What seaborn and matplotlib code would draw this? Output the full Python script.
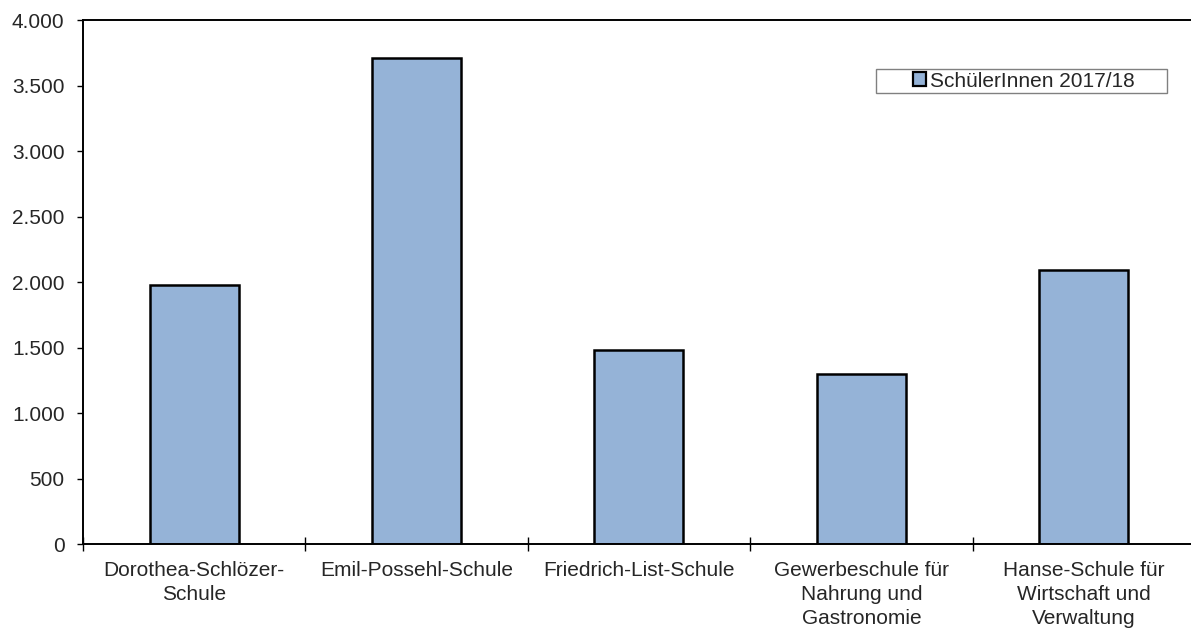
import pandas as pd
import numpy as np
import matplotlib
matplotlib.use("Agg")
import matplotlib.pyplot as plt
from matplotlib.patches import Rectangle
from matplotlib.ticker import FuncFormatter, FixedLocator
import seaborn as sns

# Daten
schulen = [
    "Dorothea-Schlözer-\nSchule",
    "Emil-Possehl-Schule",
    "Friedrich-List-Schule",
    "Gewerbeschule für\nNahrung und\nGastronomie",
    "Hanse-Schule für\nWirtschaft und\nVerwaltung",
]
schueler = [1980, 3710, 1480, 1300, 2090]
serie = "SchülerInnen 2017/18"

df = pd.DataFrame({"Schule": schulen, "Anzahl": schueler, "Serie": serie})

sns.set_style("white")
plt.rcParams["font.family"] = ["Liberation Sans", "DejaVu Sans"]
fs = 15

fig = plt.figure(figsize=(11.91, 6.30), dpi=100)
ax = fig.add_axes([0.0697, 0.1365, 0.9336, 0.8317])

sns.barplot(data=df, x="Schule", y="Anzahl", hue="Serie", palette=["#95B3D7"],
            saturation=1, width=0.4, edgecolor="black", linewidth=1.8, ax=ax)

ax.set_xlim(-0.5, len(schulen) - 0.5)
ax.set_ylim(0, 4000)
ax.set_yticks(np.arange(0, 4001, 500))
ax.yaxis.set_major_formatter(FuncFormatter(lambda v, p: f"{int(v):,}".replace(",", ".")))

# Kategorie-Trennstriche statt Ticks in der Mitte
ax.xaxis.set_major_locator(FixedLocator(np.arange(len(schulen))))
ax.set_xticklabels(schulen, linespacing=1.35)
ax.tick_params(axis="x", which="major", bottom=True, length=0, pad=12, labelsize=fs)
ax.xaxis.set_minor_locator(FixedLocator(np.arange(-0.5, len(schulen), 1.0)))
ax.tick_params(axis="x", which="minor", bottom=True, direction="inout", length=10,
               width=1.0, color="black")
ax.tick_params(axis="y", left=True, direction="out", length=4.3, width=1.0,
               color="black", labelsize=fs, pad=9)

ax.set_xlabel("")
ax.set_ylabel("")

for s in ["left", "bottom", "top"]:
    ax.spines[s].set_visible(True)
    ax.spines[s].set_color("black")
    ax.spines[s].set_linewidth(1.4)
ax.spines["right"].set_visible(False)

# Legendenrahmen
ax.add_patch(Rectangle((0.7131, 0.8607), 0.2617, 0.0458, transform=ax.transAxes,
                       facecolor="white", edgecolor="#808080", linewidth=1.0,
                       zorder=4, clip_on=False))
leg = ax.legend(loc="center left", bbox_to_anchor=(0.7464, 0.8836), borderaxespad=0,
                frameon=False, fontsize=fs, handlelength=0.62, handleheight=0.62,
                handletextpad=0.2, borderpad=0)
leg.set_zorder(5)
for h in leg.legend_handles:
    h.set_edgecolor("black")
    h.set_linewidth(1.6)

plt.savefig("out.png", dpi=100)
plt.close()
